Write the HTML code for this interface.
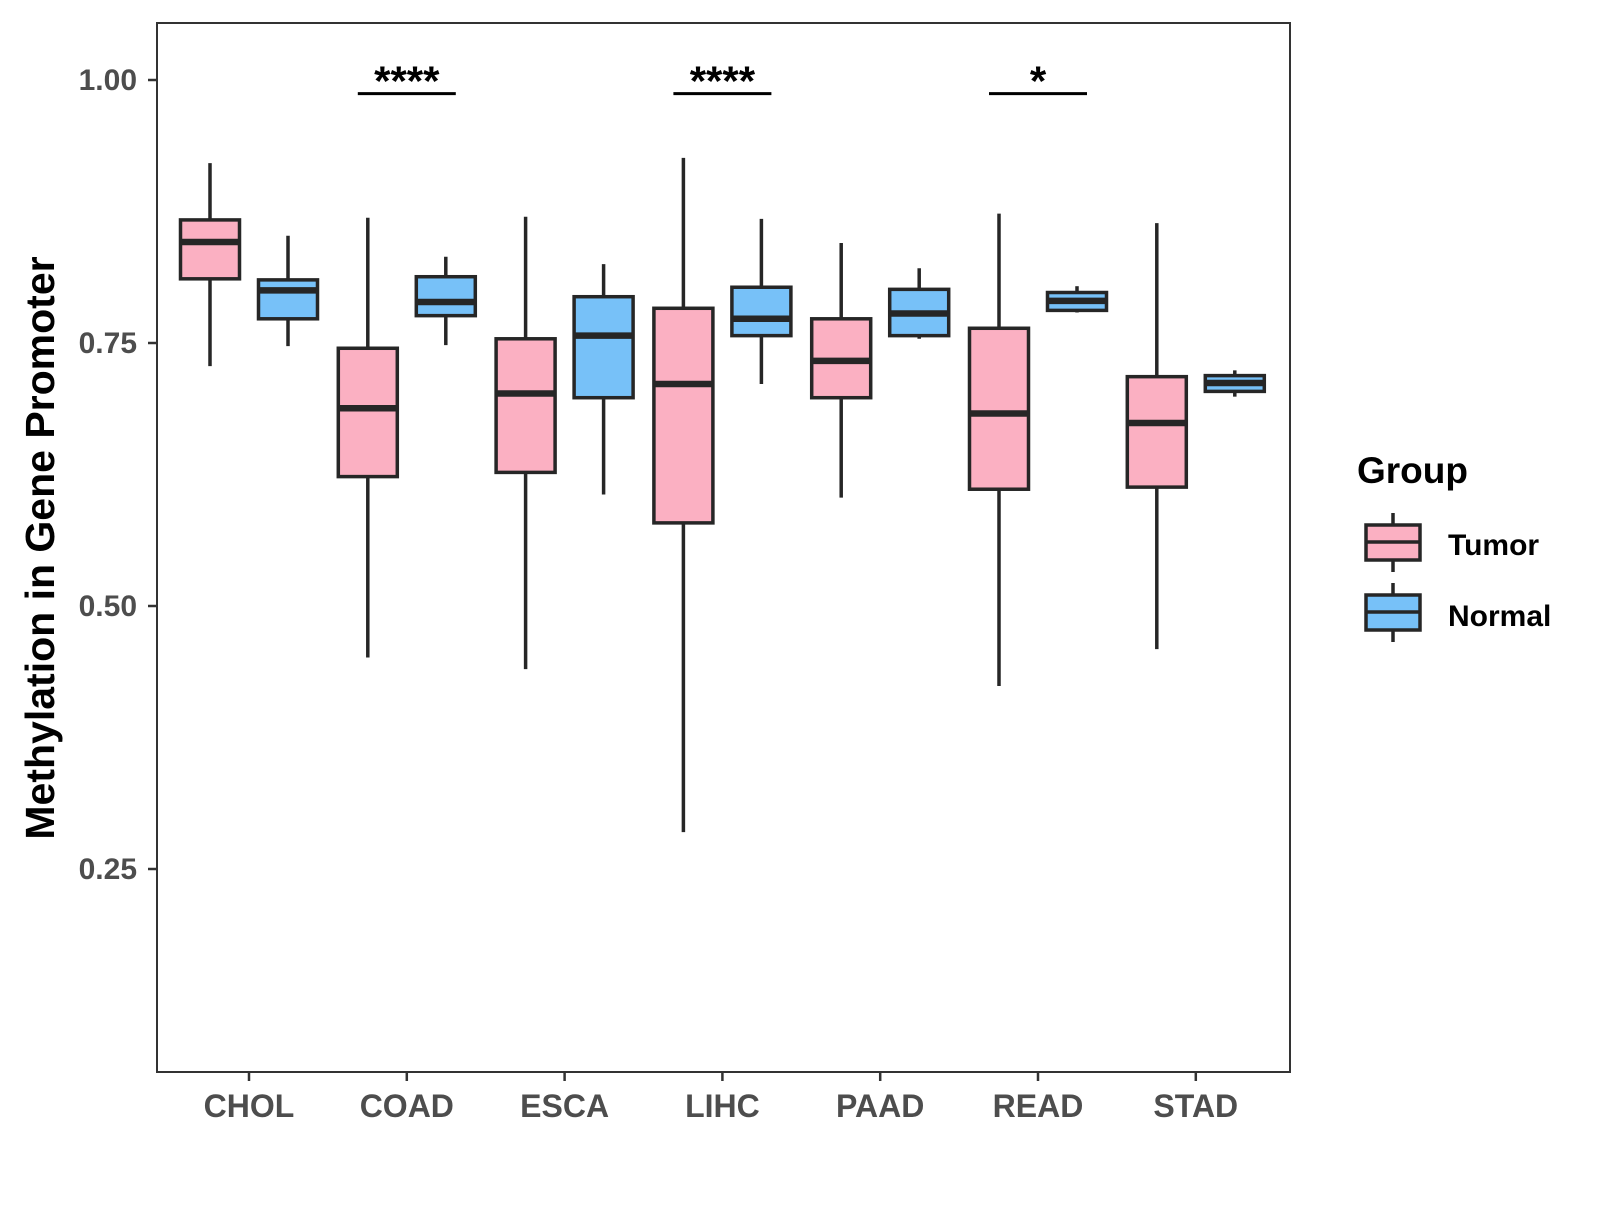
<!DOCTYPE html>
<html><head><meta charset="utf-8"><style>
body{margin:0;background:#fff}
svg text{font-family:"Liberation Sans",Arial,sans-serif;font-weight:bold}
</style></head><body>
<svg id="chart" width="1600" height="1200" viewBox="0 0 1600 1200">
<rect x="0" y="0" width="1600" height="1200" fill="#fff"/>
<g id="plot"></g>
<rect x="157" y="23" width="1133" height="1049" fill="none" stroke="#333" stroke-width="2"/>
<text x="0" y="0" transform="translate(54,548) rotate(-90)" text-anchor="middle" font-size="41" fill="#000">Methylation in Gene Promoter</text>
<g>
<text x="1357" y="483" font-size="37" fill="#000">Group</text>
<g>
<line x1="1393" y1="513" x2="1393" y2="572" stroke="#262626" stroke-width="3.5"/>
<rect x="1366" y="525" width="54" height="35" fill="#FBB0C2" stroke="#262626" stroke-width="3.5"/>
<line x1="1366" y1="542" x2="1420" y2="542" stroke="#262626" stroke-width="3.5"/>
<text x="1448" y="555" font-size="30" fill="#000">Tumor</text>
</g>
<g>
<line x1="1393" y1="583" x2="1393" y2="642" stroke="#262626" stroke-width="3.5"/>
<rect x="1366" y="595" width="54" height="35" fill="#77C1F8" stroke="#262626" stroke-width="3.5"/>
<line x1="1366" y1="612" x2="1420" y2="612" stroke="#262626" stroke-width="3.5"/>
<text x="1448" y="626" font-size="30" fill="#000">Normal</text>
</g>
</g>
</svg>
<script>
const categories=["CHOL","COAD","ESCA","LIHC","PAAD","READ","STAD"];
// [lower whisker, q1, median, q3, upper whisker]
const tumorStats=[[0.728,0.811,0.846,0.867,0.921],[0.451,0.623,0.688,0.745,0.869],[0.440,0.627,0.702,0.754,0.870],[0.285,0.579,0.711,0.783,0.926],[0.603,0.698,0.733,0.773,0.845],[0.424,0.611,0.683,0.764,0.873],[0.459,0.613,0.674,0.718,0.864]];
const normalStats=[[0.747,0.773,0.800,0.810,0.852],[0.748,0.776,0.789,0.813,0.832],[0.606,0.698,0.757,0.794,0.825],[0.711,0.757,0.773,0.803,0.868],[0.754,0.757,0.778,0.801,0.821],[0.779,0.781,0.790,0.798,0.804],[0.699,0.704,0.712,0.719,0.724]];
const yTicks=[0.25,0.50,0.75,1.00];
const yTickLabels=["0.25","0.50","0.75","1.00"];
const sigCats=["COAD","LIHC","READ"];
const sigLabels=["****","****","*"];
const sigLevel=0.987;

const NS="http://www.w3.org/2000/svg";
const g=document.getElementById('plot');
function yS(v){return 80+(1-v)*1052;}
function xS(i){return 249+i*157.8;}
function mk(t,a,p){const e=document.createElementNS(NS,t);for(const k in a)e.setAttribute(k,a[k]);(p||g).appendChild(e);return e;}
const stroke="#262626";
yTicks.forEach((v,i)=>{
  const y=yS(v);
  const t=mk('line',{x1:148,x2:157,y1:y,y2:y,stroke:"#333","stroke-width":2.5});
  
  
  const l=mk('text',{x:137,y:y+10,"text-anchor":"end","font-size":30,fill:"#4d4d4d"});
  l.textContent=yTickLabels[i];
  
  
});
categories.forEach((c,i)=>{
  const x=xS(i);
  const t=mk('line',{x1:x,x2:x,y1:1072,y2:1081,stroke:"#333","stroke-width":2.5});
  
  
  const l=mk('text',{x:x,y:1117,"text-anchor":"middle","font-size":32,fill:"#4d4d4d"});
  l.textContent=c;
  
  
});
function box(cx,s,fill,name){
  const grp=mk('g',{});
  
  
  const w=59;
  mk('line',{x1:cx,x2:cx,y1:yS(s[4]),y2:yS(s[0]),stroke:stroke,"stroke-width":3.5},grp);
  mk('rect',{x:cx-w/2,y:yS(s[3]),width:w,height:yS(s[1])-yS(s[3]),fill:fill,stroke:stroke,"stroke-width":3.5},grp);
  mk('line',{x1:cx-w/2,x2:cx+w/2,y1:yS(s[2]),y2:yS(s[2]),stroke:stroke,"stroke-width":6.5},grp);
}
categories.forEach((c,i)=>{
  box(xS(i)-39,tumorStats[i],"#FBB0C2","box-tumor-"+c.toLowerCase());
  box(xS(i)+39,normalStats[i],"#77C1F8","box-normal-"+c.toLowerCase());
});
sigCats.forEach((c,k)=>{
  const i=categories.indexOf(c);const x=xS(i);const y=yS(sigLevel);
  const l=mk('line',{x1:x-49,x2:x+49,y1:y,y2:y,stroke:"#000","stroke-width":3});
  
  
  const t=mk('text',{x:x,y:y+2,"text-anchor":"middle","font-size":42,fill:"#000"});
  t.textContent=sigLabels[k];
  
  
});
</script>
</body></html>
